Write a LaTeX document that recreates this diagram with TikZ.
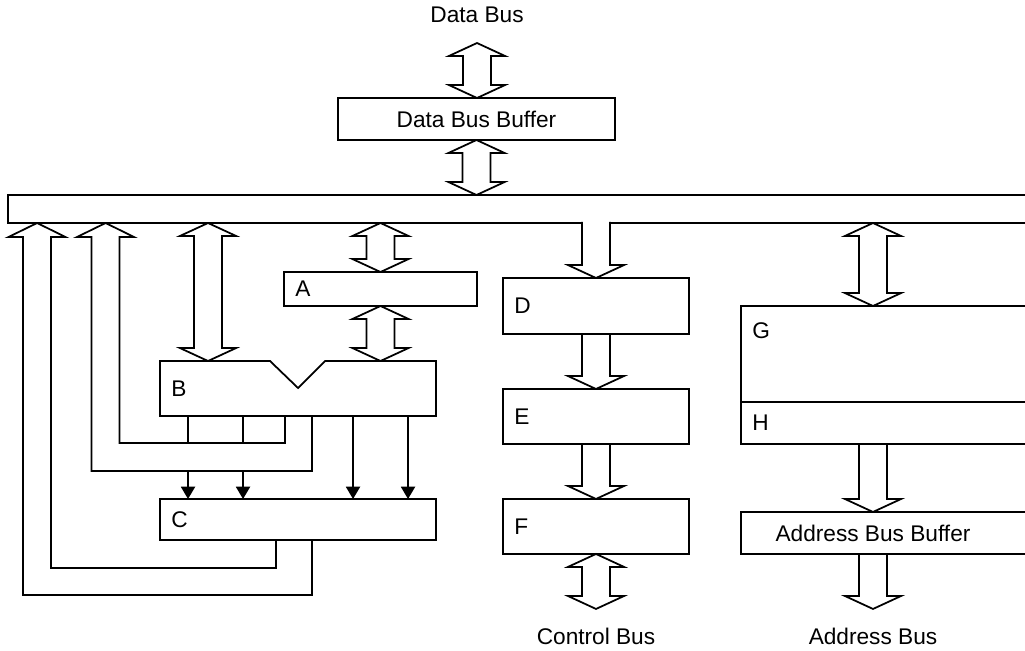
\documentclass[tikz,border=0pt]{standalone}
\usepackage{fontspec}
\setmainfont{Liberation Sans}
\usetikzlibrary{arrows.meta, positioning, calc}

% hollow bus arrows (first point on top, second below)
\newcommand{\busboth}[2]{%
  \draw[busline] let \p1=#1, \p2=#2 in
    (\x1,\y1) -- (\x1+16pt,\y1-7.4pt) -- (\x1+8pt,\y1-7.4pt) -- (\x1+8pt,\y2+7.4pt)
    -- (\x1+16pt,\y2+7.4pt) -- (\x1,\y2) -- (\x1-16pt,\y2+7.4pt) -- (\x1-8pt,\y2+7.4pt)
    -- (\x1-8pt,\y1-7.4pt) -- (\x1-16pt,\y1-7.4pt) -- cycle;}
\newcommand{\busdown}[3][]{%
  \draw[busline, #1] let \p1=#2, \p2=#3 in
    (\x1-8pt,\y1) -- (\x1-8pt,\y2+7.4pt) -- (\x1-16pt,\y2+7.4pt) -- (\x1,\y2)
    -- (\x1+16pt,\y2+7.4pt) -- (\x1+8pt,\y2+7.4pt) -- (\x1+8pt,\y1);}

\begin{document}
\begin{tikzpicture}[x=0.02cm, y=-0.02cm, line width=1pt,
  font=\fontsize{12.9}{15}\selectfont,
  box/.style={draw, rectangle, inner sep=0pt, outer sep=0pt},
  tag/.style={inner sep=0pt},
  busline/.style={line width=1pt},
  sig/.style={-{Triangle[length=7pt, width=8pt]}}]
\useasboundingbox (0,0) rectangle (1025,650);

% Boxes
\node[box, minimum width=5.54cm, minimum height=0.84cm] (dbb) at (476.5,119) {Data Bus Buffer};
\node[box, minimum width=20.74cm, minimum height=0.56cm] (bus) at (526.5,209) {};
\node[box, minimum width=3.86cm, minimum height=0.68cm] (A) at (380.5,289) {};
\node[minimum width=5.52cm, minimum height=1.1cm, inner sep=0pt, outer sep=0pt] (B) at (298,388.5) {};
\node[box, minimum width=5.52cm, minimum height=0.82cm] (C) at (298,519.5) {};
\node[box, minimum width=3.72cm, minimum height=1.12cm] (D) at (596,306) {};
\node[box, minimum width=3.72cm, minimum height=1.1cm, below=1.1cm of D] (E) {};
\node[box, minimum width=3.72cm, minimum height=1.1cm, below=1.1cm of E] (F) {};
\node[box, minimum width=6.08cm, minimum height=1.92cm] (G) at (893,354) {};
\node[box, minimum width=6.08cm, minimum height=0.84cm, below=0pt of G] (H) {};
\node[box, minimum width=6.08cm, minimum height=0.84cm, below=1.36cm of H] (abb) {};
\draw (B.north west) -- ++(110,0) -- ++(28,27) -- ++(27,-27) -- (B.north east) |- (B.south west) -- cycle;

% Labels
\node[tag, right=6pt of A.west] (Atag) {A};
\node[tag, right=6pt of B.west] (Btag) {B};
\node[tag, right=6pt of C.west] (Ctag) {C};
\node[tag, right=6pt of D.west] (Dtag) {D};
\node[tag, right=6pt of E.west] (Etag) {E};
\node[tag, right=6pt of F.west] (Ftag) {F};
\node[tag, below right=9pt and 6pt of G.north west] (Gtag) {G};
\node[tag, right=6pt of H.west] (Htag) {H};
\coordinate (acol) at (873,0);
\coordinate (bcol) at ($(B.north west)+(48,0)$);
\node (abbtext) at (abb.center -| acol) {Address Bus Buffer};

\coordinate (dbtop) at (477,43);
\coordinate (ctip) at ($(F.south)+(0,55)$);
\coordinate (atip) at ($(abb.south -| acol)+(0,55)$);
\node[tag, above=11pt of dbtop] (dbus) {Data Bus};
\node[tag, below=10.5pt of ctip] (cbus) {Control Bus};
\node[tag, below=10.5pt of atip] (abus) {Address Bus};

% Bus arrows
\busboth{(dbtop)}{(dbb.north)}
\busboth{(dbb.south)}{(bus.north -| dbb.south)}
\busboth{(bus.south -| A.north)}{(A.north)}
\busboth{(A.south)}{(B.north -| A.south)}
\busboth{(bus.south -| bcol)}{(bcol)}
\busdown[fill=white]{([yshift=0.6pt]bus.south -| D.north)}{(D.north)}
\busdown{(D.south)}{(E.north)}
\busdown{(E.south)}{(F.north)}
\busboth{(F.south)}{(ctip)}
\busboth{(bus.south -| acol)}{(G.north -| acol)}
\busdown{(H.south -| acol)}{(abb.north -| acol)}
\busdown{(abb.south -| acol)}{(atip)}

% Feedback paths up to the bus
\draw ($(C.south west)+(152,0)$) |- (23,595) -- (23,237) -- (8.5,237) -- ($(bus.south west)+(29,0)$)
  -- (65.5,237) -- (51,237) -- (51,568) -| ($(C.south west)+(116,0)$);
\draw ($(B.south west)+(152,0)$) |- (91.5,471) -- (91.5,237) -- (77,237) -- ($(bus.south west)+(97.5,0)$)
  -- (134,237) -- (119.5,237) -- (119.5,443) -| ($(B.south west)+(125,0)$);

% Signals from B to C
\foreach \dx in {28,83} \draw ($(B.south west)+(\dx,0)$) -- ++(0,27);
\foreach \dx in {28,83} \draw[sig] ($(B.south west)+(\dx,55)$) -- ($(C.north west)+(\dx,0)$);
\foreach \dx in {193,248} \draw[sig] ($(B.south west)+(\dx,0)$) -- ($(C.north west)+(\dx,0)$);
\end{tikzpicture}
\end{document}
